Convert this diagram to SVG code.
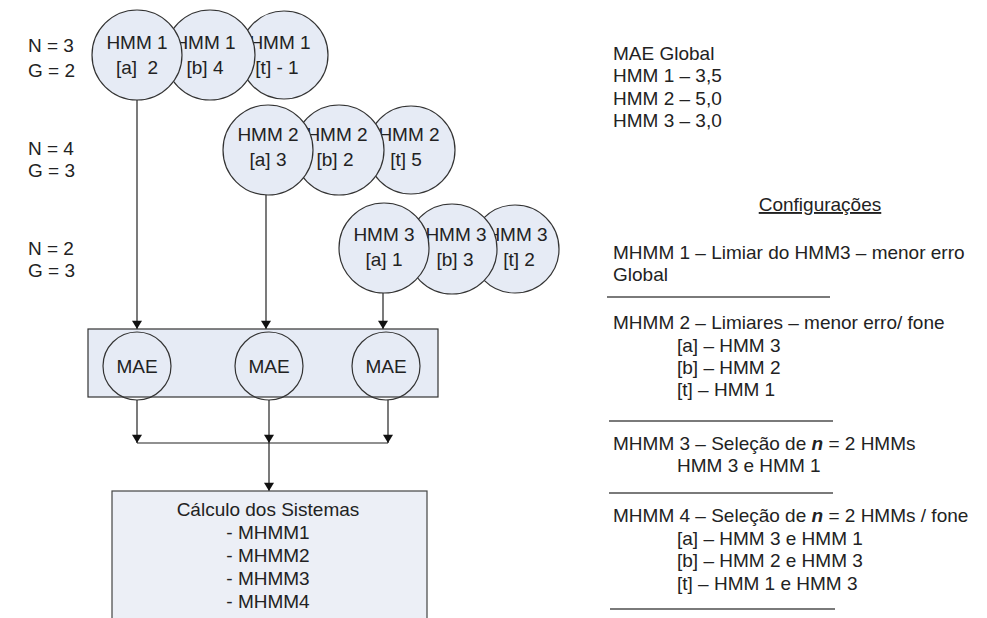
<svg xmlns="http://www.w3.org/2000/svg" width="987" height="618" viewBox="0 0 987 618">
  <defs>
    <marker id="arrow" viewBox="0 0 10 12" refX="10" refY="6" markerWidth="12" markerHeight="10" markerUnits="userSpaceOnUse" orient="auto">
      <path d="M0,0 L10,6 L0,12 z" fill="#111"/>
    </marker>
  </defs>
  <style>
    text { font-family: "Liberation Sans", Arial, sans-serif; font-size: 19px; fill: #222; }
    .c { text-anchor: middle; }
    .hmm { fill: #e6ebf5; stroke: #333; stroke-width: 1.2; }
    .box { fill: #e6ebf5; stroke: #333; stroke-width: 1.2; }
    .calc { fill: #eceff6; stroke: #444; stroke-width: 1.2; }
    .mae { fill: none; stroke: #333; stroke-width: 1.2; }
    .wire { fill: none; stroke: #222; stroke-width: 1.2; }
    .sep { stroke: #7a7a7a; stroke-width: 2; }
  </style>
  <rect width="987" height="618" fill="#fff"/>

  <!-- parameter labels -->
  <g id="params">
    <text x="28" y="52">N = 3</text>
    <text x="28" y="77">G = 2</text>
    <text x="28" y="155">N = 4</text>
    <text x="28" y="177">G = 3</text>
    <text x="28" y="255">N = 2</text>
    <text x="28" y="277">G = 3</text>
  </g>

  <!-- connectors -->
  <g id="connectors">
    <line class="wire" x1="137" y1="100" x2="137" y2="329" marker-end="url(#arrow)"/>
    <line class="wire" x1="266" y1="195" x2="266" y2="329" marker-end="url(#arrow)"/>
    <line class="wire" x1="383" y1="293" x2="383" y2="329" marker-end="url(#arrow)"/>
    <line class="wire" x1="137" y1="400" x2="137" y2="443" marker-end="url(#arrow)"/>
    <line class="wire" x1="269" y1="400" x2="269" y2="443" marker-end="url(#arrow)"/>
    <line class="wire" x1="388" y1="400" x2="388" y2="443" marker-end="url(#arrow)"/>
    <polyline class="wire" points="137,443 388,443"/>
    <line class="wire" x1="269" y1="443" x2="269" y2="491" marker-end="url(#arrow)"/>
  </g>

  <!-- HMM 1 models (drawn back to front) -->
  <g id="hmm1-t"><circle class="hmm" cx="284" cy="55" r="44"/><text class="c" x="280" y="49">HMM 1</text><text class="c" x="277" y="74">[t] - 1</text></g>
  <g id="hmm1-b"><circle class="hmm" cx="210" cy="55" r="45"/><text class="c" x="205" y="49">HMM 1</text><text class="c" x="205" y="74">[b] 4</text></g>
  <g id="hmm1-a"><circle class="hmm" cx="137" cy="55" r="45"/><text class="c" x="137" y="49">HMM 1</text><text class="c" x="137" y="74" xml:space="preserve">[a]  2</text></g>

  <!-- HMM 2 models -->
  <g id="hmm2-t"><circle class="hmm" cx="411" cy="150" r="44"/><text class="c" x="409" y="141">HMM 2</text><text class="c" x="406" y="166">[t] 5</text></g>
  <g id="hmm2-b"><circle class="hmm" cx="339" cy="150" r="45"/><text class="c" x="337" y="141">HMM 2</text><text class="c" x="335" y="166">[b] 2</text></g>
  <g id="hmm2-a"><circle class="hmm" cx="268" cy="150" r="45"/><text class="c" x="268" y="141">HMM 2</text><text class="c" x="268" y="166">[a] 3</text></g>

  <!-- HMM 3 models -->
  <g id="hmm3-t"><circle class="hmm" cx="515" cy="249" r="44"/><text class="c" x="517" y="241">HMM 3</text><text class="c" x="519" y="266">[t] 2</text></g>
  <g id="hmm3-b"><circle class="hmm" cx="452" cy="249" r="45"/><text class="c" x="456" y="241">HMM 3</text><text class="c" x="455" y="266">[b] 3</text></g>
  <g id="hmm3-a"><circle class="hmm" cx="384" cy="248" r="45"/><text class="c" x="384" y="241">HMM 3</text><text class="c" x="384" y="266">[a] 1</text></g>

  <!-- MAE evaluation block -->
  <g id="mae-block">
    <rect class="box" x="88" y="329" width="350" height="68"/>
    <g id="mae-1"><circle class="mae" cx="137" cy="366" r="34"/><text class="c" x="137" y="373">MAE</text></g>
    <g id="mae-2"><circle class="mae" cx="269" cy="366" r="34"/><text class="c" x="269" y="373">MAE</text></g>
    <g id="mae-3"><circle class="mae" cx="386" cy="366" r="34"/><text class="c" x="386" y="373">MAE</text></g>
  </g>

  <!-- system computation block -->
  <g id="calculo">
    <rect class="calc" x="112" y="491" width="315" height="140"/>
    <text class="c" x="268" y="516">Cálculo dos Sistemas</text>
    <text class="c" x="268" y="539">- MHMM1</text>
    <text class="c" x="268" y="562">- MHMM2</text>
    <text class="c" x="268" y="585">- MHMM3</text>
    <text class="c" x="268" y="608">- MHMM4</text>
  </g>

  <!-- global error summary -->
  <g id="mae-global">
    <text x="613" y="60">MAE Global</text>
    <text x="613" y="82">HMM 1 – 3,5</text>
    <text x="613" y="105">HMM 2 – 5,0</text>
    <text x="613" y="127">HMM 3 – 3,0</text>
  </g>

  <!-- configurations -->
  <g id="configuracoes">
    <text class="c" x="820" y="211" text-decoration="underline">Configurações</text>
    <text x="613" y="259">MHMM 1 – Limiar do HMM3 – menor erro</text>
    <text x="613" y="281">Global</text>
    <line class="sep" x1="607" y1="297" x2="830" y2="297"/>

    <text x="613" y="329">MHMM 2 – Limiares – menor erro/ fone</text>
    <text x="677" y="352">[a] – HMM 3</text>
    <text x="677" y="374">[b] – HMM 2</text>
    <text x="677" y="396">[t] – HMM 1</text>
    <line class="sep" x1="609" y1="421" x2="833" y2="421"/>

    <text x="613" y="450">MHMM 3 – Seleção de <tspan font-weight="bold" font-style="italic">n</tspan> = 2 HMMs</text>
    <text x="677" y="472">HMM 3 e HMM 1</text>
    <line class="sep" x1="609" y1="493" x2="833" y2="493"/>

    <text x="613" y="522">MHMM 4 – Seleção de <tspan font-weight="bold" font-style="italic">n</tspan> = 2 HMMs / fone</text>
    <text x="677" y="545">[a] – HMM 3 e HMM 1</text>
    <text x="677" y="567">[b] – HMM 2 e HMM 3</text>
    <text x="677" y="590">[t] – HMM 1 e HMM 3</text>
    <line class="sep" x1="610" y1="609" x2="835" y2="609"/>
  </g>
</svg>
